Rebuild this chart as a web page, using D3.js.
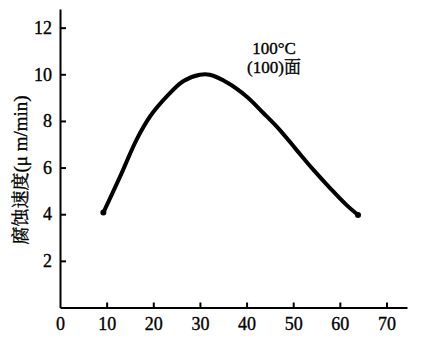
<!DOCTYPE html>
<html>
<head>
<meta charset="utf-8">
<script src="https://cdn.jsdelivr.net/npm/d3@7"></script>
<style>
  html, body { margin: 0; padding: 0; background: #fff; }
  svg { display: block; }
  text { fill: #000; stroke: #000; stroke-width: 0.35px; }
</style>
</head>
<body>
<svg id="chart" width="428" height="343"></svg>
<script>
// Corrosion rate of the (100) face at 100 °C versus temperature-axis value
const xValues = [9.3, 12.9, 16.4, 19.3, 22.9, 26.4, 30.0, 32.1, 36.0, 40.0, 43.6, 47.1, 50.7, 54.3, 57.9, 61.4, 63.9];
const rateValues = [4.07, 5.62, 7.19, 8.19, 9.05, 9.70, 9.98, 9.98, 9.63, 9.05, 8.34, 7.62, 6.76, 5.91, 5.12, 4.40, 3.97];
const xTicks = [0, 10, 20, 30, 40, 50, 60, 70];
const yTicks = [2, 4, 6, 8, 10, 12];
const yTitle = "腐蚀速度";
const yUnit = "(μ m/min)";
const noteLines = ["100°C", "(100)面"];

const svg = d3.select("#chart");
const serif = "'Liberation Serif'";
const cjk = "'Noto Serif CJK SC'";

const x = d3.scaleLinear().domain([0, 74.4]).range([60, 407]);
const y = d3.scaleLinear().domain([0, 12.8]).range([307.5, 9]);

// Axes: ticks point inward, labels drawn by the axis generator
const xAxis = d3.axisBottom(x).tickValues(xTicks).tickSizeInner(-5).tickSizeOuter(0).tickPadding(10);
const gx = svg.append("g").attr("transform", `translate(0,${y(0)})`).call(xAxis)
  .attr("font-family", null).attr("font-size", null);
gx.select(".domain").attr("stroke", "#000").attr("stroke-width", 2);
gx.selectAll(".tick line").attr("stroke", "#000").attr("stroke-width", 2)
  .filter(d => d === 0).remove();
gx.selectAll(".tick text").style("font-family", serif).style("font-size", "18px");

const yAxis = d3.axisLeft(y).tickValues(yTicks).tickSizeInner(-6).tickSizeOuter(0).tickPadding(8);
const gy = svg.append("g").attr("transform", `translate(${x(0)},0)`).call(yAxis)
  .attr("font-family", null).attr("font-size", null);
gy.select(".domain").attr("stroke", "#000").attr("stroke-width", 2);
gy.selectAll(".tick line").attr("stroke", "#000").attr("stroke-width", 2);
gy.selectAll(".tick text").style("font-family", serif).style("font-size", "18px");

// Rate curve
const line = d3.line()
  .x((d, i) => x(xValues[i]))
  .y(d => y(d))
  .curve(d3.curveCatmullRom.alpha(0.5));
svg.append("path")
  .datum(rateValues)
  .attr("d", line)
  .attr("fill", "none")
  .attr("stroke", "#000")
  .attr("stroke-width", 4)
  .attr("stroke-linecap", "round")
  .attr("stroke-linejoin", "round");

// Rounded end points of the curve
const ends = [0, xValues.length - 1];
svg.selectAll("circle.end").data(ends).join("circle")
  .attr("class", "end")
  .attr("cx", i => x(xValues[i]))
  .attr("cy", i => y(rateValues[i]))
  .attr("r", 3)
  .attr("fill", "#000");

// Y axis title
const title = svg.append("text")
  .attr("transform", "translate(27,170) rotate(-90)")
  .attr("text-anchor", "middle")
  .style("font-size", "18px");
title.append("tspan").style("font-family", cjk).text(yTitle);
title.append("tspan").style("font-family", serif).style("font-size", "19px").text(yUnit);

// Annotation
svg.selectAll("text.note").data(noteLines).join("text")
  .attr("class", "note")
  .attr("x", 274)
  .attr("y", (d, i) => 54 + i * 19)
  .attr("text-anchor", "middle")
  .style("font-family", serif)
  .style("font-size", "17px")
  .each(function(d) {
    const t = d3.select(this);
    const m = d.match(/^(.*?)([\u4e00-\u9fff]*)$/);
    t.append("tspan").text(m[1]);
    if (m[2]) t.append("tspan").style("font-family", cjk).style("font-size", "17px").text(m[2]);
  });
</script>
</body>
</html>
